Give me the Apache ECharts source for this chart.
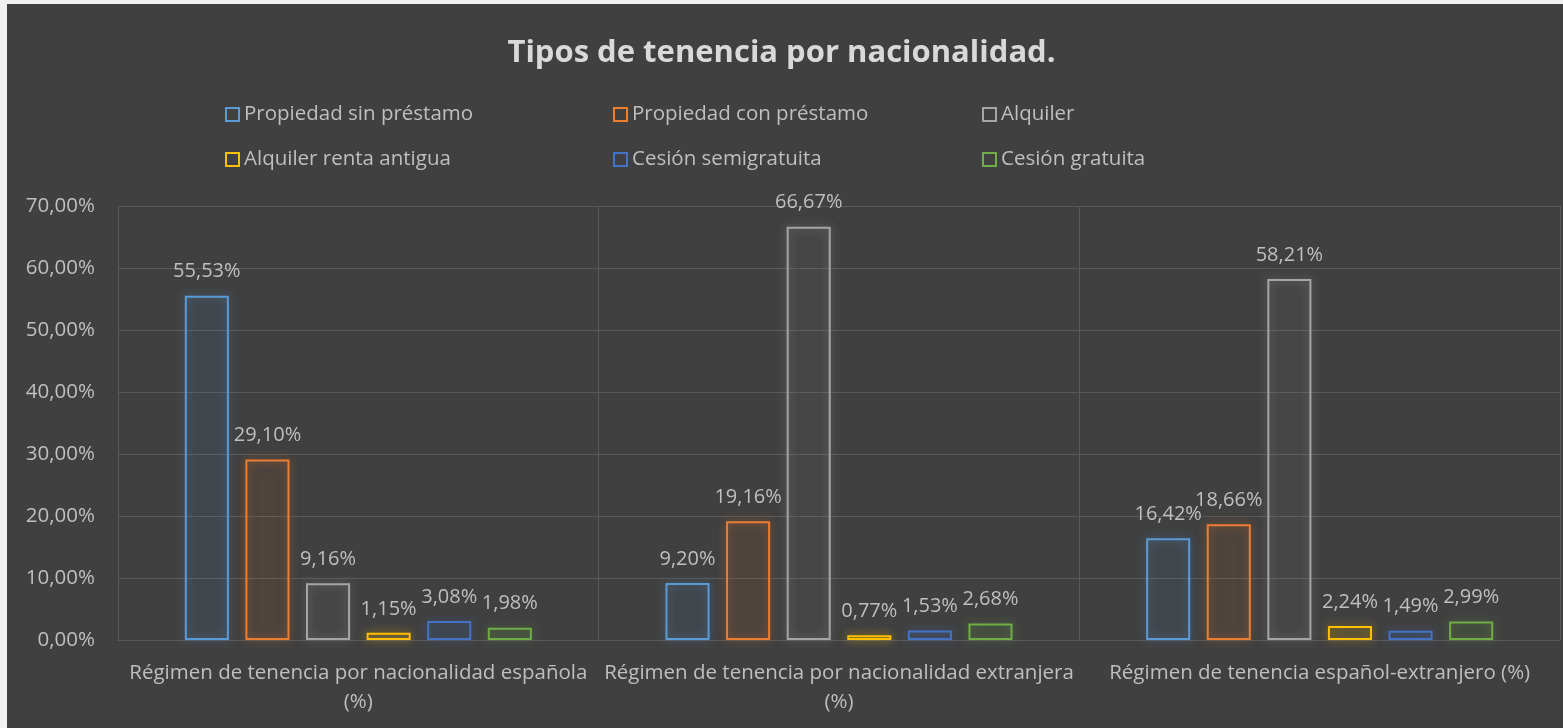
<!DOCTYPE html>
<html>
<head>
<meta charset="utf-8">
<script src="https://cdn.jsdelivr.net/npm/echarts@6/dist/echarts.min.js"></script>
<style>
  html, body { margin: 0; padding: 0; background: #f0f0f0; }
  #chart { width: 1563px; height: 728px; }
</style>
</head>
<body>
<div id="chart"></div>
<script>
// categorías del eje x
var categories = [
  "Régimen de tenencia por nacionalidad española\n(%)",
  "Régimen de tenencia por nacionalidad extranjera\n(%)",
  "Régimen de tenencia español-extranjero (%)"
];
var seriesNames = [
  "Propiedad sin préstamo",
  "Propiedad con préstamo",
  "Alquiler",
  "Alquiler renta antigua",
  "Cesión semigratuita",
  "Cesión gratuita"
];
// valores (%) por serie
var propSinPrestamo = [55.53, 9.20, 16.42];
var propConPrestamo = [29.10, 19.16, 18.66];
var alquiler = [9.16, 66.67, 58.21];
var alquilerRentaAntigua = [1.15, 0.77, 2.24];
var cesionSemigratuita = [3.08, 1.53, 1.49];
var cesionGratuita = [1.98, 2.68, 2.99];
var seriesValues = [propSinPrestamo, propConPrestamo, alquiler, alquilerRentaAntigua, cesionSemigratuita, cesionGratuita];
var yTicks = [0, 10, 20, 30, 40, 50, 60, 70];

var colors = ["#5b9bd5", "#ed7d31", "#a5a5a5", "#ffc000", "#4472c4", "#70ad47"];
var fnt = "'Open Sans', sans-serif";

function hexA(hex, a) {
  var r = parseInt(hex.slice(1, 3), 16), g = parseInt(hex.slice(3, 5), 16), b = parseInt(hex.slice(5, 7), 16);
  return "rgba(" + r + "," + g + "," + b + "," + a + ")";
}
function pct(v) {
  return v.toFixed(2).replace(".", ",") + "%";
}

var chart = echarts.init(document.getElementById("chart"));

var legendLeft = [225, 613, 982];
var legends = seriesNames.map(function (n, i) {
  return {
    left: legendLeft[i % 3],
    top: i < 3 ? 104 : 149,
    padding: 0,
    itemWidth: 13,
    itemHeight: 13,
    icon: "rect",
    selectedMode: false,
    textStyle: { color: "#bfbfbf", fontSize: 20.5, fontFamily: fnt },
    data: [{ name: n, itemStyle: { color: "transparent", borderColor: colors[i], borderWidth: 2 } }]
  };
});

var series = seriesNames.map(function (n, i) {
  return {
    name: n,
    type: "bar",
    barGap: "37.5%",
    barCategoryGap: "27.8%",
    data: seriesValues[i],
    itemStyle: {
      color: hexA(colors[i], 0.05),
      borderColor: colors[i],
      borderWidth: 2,
      shadowColor: hexA(colors[i], 0.6),
      shadowBlur: 10
    },
    label: {
      show: true,
      position: "top",
      distance: 14,
      color: "#bfbfbf",
      fontSize: 20,
      fontFamily: fnt,
      formatter: function (p) { return pct(p.value); }
    }
  };
});

var option = {
  backgroundColor: "#404040",
  animation: false,
  graphic: [
    { type: "rect", left: 0, top: 0, shape: { width: 7, height: 728 }, style: { fill: "#f0f0f0" } },
    { type: "rect", left: 0, top: 0, shape: { width: 1563, height: 4 }, style: { fill: "#f0f0f0" } }
  ],
  title: {
    text: "Tipos de tenencia por nacionalidad.",
    left: "center",
    top: 33,
    textStyle: { color: "#d9d9d9", fontSize: 31, fontWeight: "bold", fontFamily: fnt }
  },
  legend: legends,
  grid: { left: 118, right: 3, top: 206, bottom: 88 },
  xAxis: {
    type: "category",
    data: categories,
    axisTick: { show: false },
    axisLine: { lineStyle: { color: "#595959" } },
    splitLine: { show: true, lineStyle: { color: "#595959" } },
    axisLabel: { color: "#bfbfbf", fontSize: 20.5, fontFamily: fnt, margin: 19, lineHeight: 29, interval: 0 }
  },
  yAxis: {
    type: "value",
    min: yTicks[0],
    max: yTicks[yTicks.length - 1],
    interval: 10,
    axisLine: { show: false },
    axisTick: { show: false },
    splitLine: { lineStyle: { color: "#595959" } },
    axisLabel: { color: "#bfbfbf", fontSize: 20.5, fontFamily: fnt, margin: 23, formatter: function (v) { return pct(v); } }
  },
  series: series
};

chart.setOption(option);
</script>
</body>
</html>
